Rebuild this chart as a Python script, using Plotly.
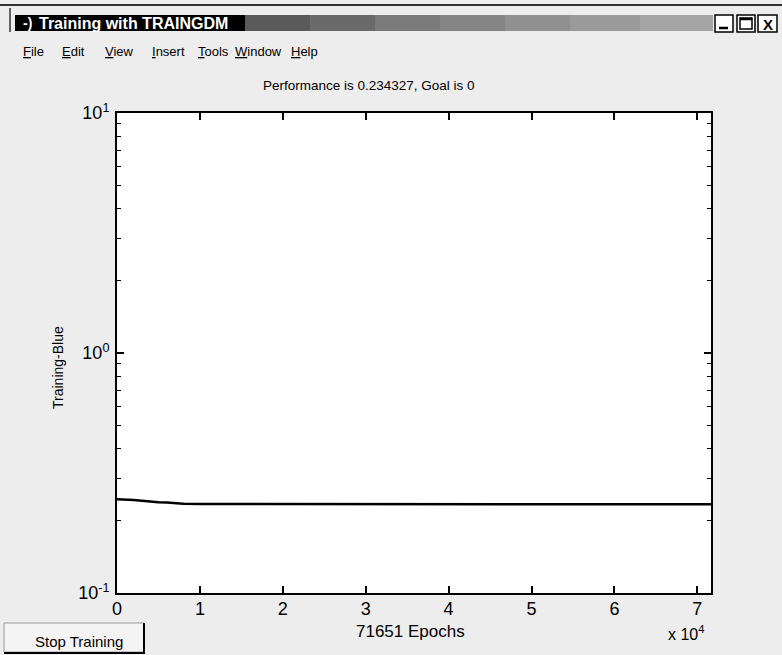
import plotly.graph_objects as go

# ---- data ----
epochs = [0, 1000, 2000, 3000, 4000, 5000, 6000, 7000, 8000, 10000, 15000,
          20000, 30000, 40000, 50000, 60000, 71651]
perf = [0.2460, 0.2455, 0.2440, 0.2425, 0.2400, 0.2390, 0.2380, 0.2365, 0.2352,
        0.2348, 0.2346, 0.2345, 0.23443, 0.23438, 0.23435, 0.23434, 0.234327]
x_tickvals = [0, 10000, 20000, 30000, 40000, 50000, 60000, 70000]
x_ticktext = ["0", "1", "2", "3", "4", "5", "6", "7"]
y_tickvals = [0.1, 1, 10]
y_ticktext = ["10<sup>-1</sup>", "10<sup>0</sup>", "10<sup>1</sup>"]
y_minor = [0.2, 0.3, 0.4, 0.5, 0.6, 0.7, 0.8, 0.9, 2, 3, 4, 5, 6, 7, 8, 9]
menu_items = ["<u>F</u>ile", "<u>E</u>dit", "<u>V</u>iew", "<u>I</u>nsert",
              "<u>T</u>ools", "<u>W</u>indow", "<u>H</u>elp"]
menu_x = [33, 73, 119, 168, 213, 258, 304]

W, H = 782, 655
L, R, T, B = 117, 711, 113, 593
FONT = "Liberation Sans, Arial, sans-serif"


def px(x):
    return (x - L) / (R - L)


def py(y):
    return (B - y) / (B - T)


def note(text, x, y, size, color="black", xanchor="center", **kw):
    return dict(text=text, xref="paper", yref="paper", x=px(x), y=py(y),
                xanchor=xanchor, yanchor="middle", showarrow=False,
                font=dict(family=FONT, size=size, color=color), **kw)


fig = go.Figure()
fig.add_trace(go.Scatter(x=epochs, y=perf, mode="lines",
                         line=dict(color="black", width=2.5),
                         showlegend=False, hoverinfo="skip"))

shapes = []
annotations = []

# window top line & left line
shapes.append(dict(type="line", xref="paper", yref="paper",
                   x0=px(0), x1=px(782), y0=py(5), y1=py(5),
                   line=dict(color="#333", width=2)))
shapes.append(dict(type="line", xref="paper", yref="paper",
                   x0=px(10), x1=px(10), y0=py(8), y1=py(32),
                   line=dict(color="#333", width=1.5)))
# title bar: black part
shapes.append(dict(type="rect", xref="paper", yref="paper",
                   x0=px(15), x1=px(245), y0=py(15), y1=py(31),
                   fillcolor="black", line=dict(width=0), layer="above"))
# speckled gray gradient part
grays = ["#5a5a5a", "#6a6a6a", "#7a7a7a", "#858585", "#909090", "#9a9a9a", "#a4a4a4"]
seg_edges = [245, 310, 375, 440, 505, 570, 640, 713]
for i, g in enumerate(grays):
    shapes.append(dict(type="rect", xref="paper", yref="paper",
                       x0=px(seg_edges[i]), x1=px(seg_edges[i + 1]),
                       y0=py(15), y1=py(31), fillcolor=g,
                       line=dict(width=0), layer="above"))
# window buttons
for bx0, bx1 in [(715, 733), (737, 755), (758, 777)]:
    shapes.append(dict(type="rect", xref="paper", yref="paper",
                       x0=px(bx0), x1=px(bx1), y0=py(15), y1=py(32),
                       fillcolor="white", line=dict(color="black", width=1.5),
                       layer="above"))
shapes.append(dict(type="line", xref="paper", yref="paper",
                   x0=px(719), x1=px(728), y0=py(28), y1=py(28),
                   line=dict(color="black", width=2.5), layer="above"))
shapes.append(dict(type="rect", xref="paper", yref="paper",
                   x0=px(740), x1=px(752), y0=py(18), y1=py(29),
                   line=dict(color="black", width=1.5), layer="above"))
shapes.append(dict(type="line", xref="paper", yref="paper",
                   x0=px(740), x1=px(752), y0=py(19), y1=py(19),
                   line=dict(color="black", width=2.5), layer="above"))
annotations.append(note("<b>X</b>", 767.5, 24, 15))
# icon + title text
annotations.append(note("<b>-)</b>", 27, 23.5, 14, color="white"))
annotations.append(note("<b>Training with TRAINGDM</b>", 37, 23.5, 16,
                        color="white", xanchor="left"))
# menu
for t, mx in zip(menu_items, menu_x):
    annotations.append(note(t, mx, 52, 13))
# axes title
annotations.append(note("Performance is 0.234327, Goal is 0", 369, 85, 13.5))
# y label
annotations.append(note("Training-Blue", 58, 368, 14, textangle=-90))
# x label
annotations.append(note("71651 Epochs", 410, 631, 17))
annotations.append(note("x 10<sup>4</sup>", 686, 633, 16))
# Stop Training button
shapes.append(dict(type="rect", xref="paper", yref="paper",
                   x0=px(4), x1=px(144), y0=py(623), y1=py(652),
                   fillcolor="#f4f4f4", line=dict(color="#999", width=1)))
shapes.append(dict(type="line", xref="paper", yref="paper",
                   x0=px(144), x1=px(144), y0=py(623), y1=py(653),
                   line=dict(color="black", width=2)))
shapes.append(dict(type="line", xref="paper", yref="paper",
                   x0=px(4), x1=px(145), y0=py(653), y1=py(653),
                   line=dict(color="black", width=2)))
annotations.append(note("Stop Training", 79, 641, 15))

fig.update_layout(
    width=W, height=H,
    margin=dict(l=L, r=W - R, t=T, b=H - B, pad=0),
    paper_bgcolor="#ededed",
    plot_bgcolor="white",
    font=dict(family=FONT, color="black"),
    shapes=shapes,
    annotations=annotations,
    showlegend=False,
)
fig.update_xaxes(
    range=[0, 71651], tickmode="array", tickvals=x_tickvals,
    ticktext=x_ticktext, ticks="inside", ticklen=7, tickwidth=1.5,
    tickcolor="black", showline=True, linecolor="black", linewidth=2,
    mirror="allticks", showgrid=False, zeroline=False,
    tickfont=dict(family=FONT, size=18, color="black"),
    ticklabelstandoff=-2,
)
fig.update_yaxes(
    type="log", range=[-1, 1], tickmode="array", tickvals=y_tickvals,
    ticktext=y_ticktext, ticks="inside", ticklen=7, tickwidth=1.5,
    tickcolor="black", showline=True, linecolor="black", linewidth=2,
    mirror="allticks", showgrid=False, zeroline=False,
    tickfont=dict(family=FONT, size=18, color="black"),
    ticklabelstandoff=2,
    minor=dict(tickmode="array", tickvals=y_minor, ticks="inside",
               ticklen=4, tickwidth=1.2, tickcolor="black", showgrid=False),
)

fig.write_html("out.html")
